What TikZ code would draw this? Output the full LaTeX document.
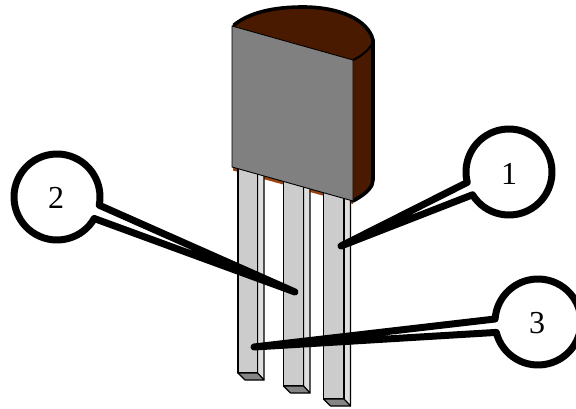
\documentclass[tikz,border=0pt]{standalone}
\usepackage{fontspec}
\setmainfont{Liberation Serif}
\definecolor{bodybrown}{HTML}{4A1A00}
\definecolor{sliver}{HTML}{9A4210}
\tikzset{
  front/.style={fill=black!50,draw=black,line width=.9pt,line join=round},
  leadfront/.style={fill=black!20,draw=black,line width=1.1pt,line join=round},
  leadside/.style={fill=black!13,draw=black,line width=1.1pt,line join=round},
  leadbottom/.style={fill=black!48,draw=black,line width=1.1pt,line join=round},
  bodyedge/.style={draw=black,line width=3.6pt,line cap=round},
  ring/.style={circle,minimum size=86pt,inner sep=0pt,outer sep=0pt},
  callout/.style={draw=black,fill=white,line width=7pt,line join=round},
  digit/.style={font=\fontsize{32}{36}\selectfont,inner sep=0pt}
}
\newcommand{\onelead}[3]{%
  \draw[leadside] (#2,150) -- (#2+6.5,150) -- (#2+6.5,#3+7) -- (#2,#3) -- cycle;
  \draw[leadfront] (#1,150) rectangle (#2,#3);
  \draw[leadbottom] (#1,#3) -- (#2,#3) -- (#2+6.5,#3+7) -- (#1+7,#3+7) -- cycle;
}
\begin{document}
\begin{tikzpicture}[x=1pt,y=-1pt]
\useasboundingbox (0,0) rectangle (576,409);
% sliver of the body seen below the front face
\fill[sliver] (233,160) -- (353,195) -- (353,204) -- (233,170.5) -- cycle;
% leads
\onelead{238}{257.5}{373}
\onelead{283.5}{303.5}{386}
\onelead{323.5}{344}{399}
% body
\path[fill=bodybrown] (232,26) .. controls (250,12) and (275,7) .. (303,7)
   .. controls (340,7) and (368,20) .. (373,40) -- (373,180)
   .. controls (373,186) and (368,193) .. (353,201) -- cycle;
\draw[bodyedge] (234,25) .. controls (250,12) and (275,7) .. (303,7)
   .. controls (340,7) and (368,20) .. (373,40) -- (373,180)
   .. controls (373,186) and (368,193) .. (353,201);
\draw[black,line width=2pt] (373,40) .. controls (372,48) and (362,56) .. (353,60);
\draw[front] (232,26) -- (353,60) -- (353,201) -- (232,167) -- cycle;
% callouts
\node[ring] (two) at (57,197) {};
\coordinate (tiptwo) at (295,292);
\draw[callout] (tiptwo) -- (two.-30) arc[start angle=-30,delta angle=-341,radius=43pt] -- cycle;
\node[digit] at (56,198) {2};
\node[ring] (one) at (509,172) {};
\coordinate (tipone) at (341,246);
\draw[callout] (tipone) -- (one.212) arc[start angle=212,delta angle=342,radius=43pt] -- cycle;
\node[digit] at (509,174) {1};
\node[ring] (three) at (538,322) {};
\coordinate (tipthree) at (254,347);
\draw[callout] (tipthree) -- (three.194) arc[start angle=194,delta angle=342,radius=43pt] -- cycle;
\node[digit] at (537,323) {3};
\end{tikzpicture}
\end{document}
